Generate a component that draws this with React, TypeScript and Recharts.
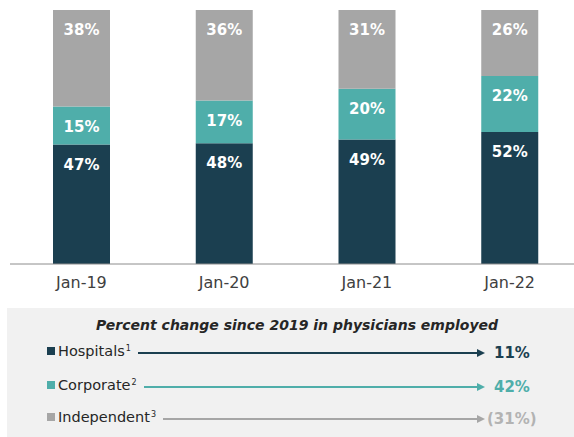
import { BarChart, Bar, XAxis, YAxis, LabelList } from 'recharts';

const categories = ['Jan-19', 'Jan-20', 'Jan-21', 'Jan-22'];
const hospitals = [47, 48, 49, 52];
const corporate = [15, 17, 20, 22];
const independent = [38, 36, 31, 26];

const seriesNames = ['Hospitals', 'Corporate', 'Independent'];
const footnotes = ['1', '2', '3'];
const changeSince2019 = [11, 42, -31];

const NAVY = '#1b3f50';
const TEAL = '#4faeaa';
const GRAY = '#a6a6a6';
const FONT = '"DejaVu Sans", sans-serif';

const data = categories.map((c, i) => ({
  cat: c,
  hospitals: hospitals[i],
  corporate: corporate[i],
  independent: independent[i],
}));

const fmtChange = (v: number) => (v < 0 ? `(${Math.abs(v)}%)` : `${v}%`);

// label sits near the top of each segment
const segLabel = (p: any) => (
  <text
    x={p.x + p.width / 2} y={p.y + 20} textAnchor="middle" dominantBaseline="central"
    fill="#fff" fontSize={15} fontWeight="bold" fontFamily={FONT}
  >
    {p.value}%
  </text>
);

function ArrowRow({ idx, top }: { idx: number; top: number }) {
  const color = [NAVY, TEAL, GRAY][idx];
  const valColor = [NAVY, TEAL, '#b3b3b3'][idx];
  const v = changeSince2019[idx];
  return (
    <>
      <div style={{ position: 'absolute', left: 47, top: top - 10, width: 438, height: 20, display: 'flex', alignItems: 'center' }}>
        <div style={{ width: 8, height: 8, background: color, marginRight: 3 }} />
        <span style={{ fontSize: 14.5, color: '#262626', lineHeight: '20px' }}>{seriesNames[idx]}</span>
        <span style={{ fontSize: 8, color: '#262626', alignSelf: 'flex-start', lineHeight: '10px', marginTop: 3, marginLeft: 1 }}>{footnotes[idx]}</span>
        <div style={{ flex: 1, height: idx === 2 ? 1.5 : 2, background: color, marginLeft: 7, marginTop: 4 }} />
        <div style={{ width: 0, height: 0, marginTop: 4, borderTop: '4px solid transparent', borderBottom: '4px solid transparent', borderLeft: `8px solid ${color}` }} />
      </div>
      <div style={{ position: 'absolute', left: v < 0 ? 487 : 494, top: top - 10, height: 20, lineHeight: '20px', fontSize: 15, fontWeight: 'bold', color: valColor, marginTop: 2 }}>
        {fmtChange(v)}
      </div>
    </>
  );
}

export default function App() {
  return (
    <div style={{ position: 'relative', width: 574, height: 437, overflow: 'hidden', fontFamily: FONT, background: '#fff' }}>
      <style>{'body{margin:0}'}</style>
      <div style={{ position: 'absolute', left: 0, top: 0 }}>
        <BarChart
          width={581} height={300} data={data} stackOffset="expand"
          margin={{ top: 10, right: 0, bottom: 0, left: 10 }}
        >
          <XAxis
            dataKey="cat" height={36} tickLine={false} tickMargin={7}
            axisLine={{ stroke: '#8c8c8c' }}
            tick={{ fill: '#404040', fontSize: 16, fontFamily: FONT }}
          />
          <YAxis hide />
          <Bar dataKey="hospitals" stackId="s" fill={NAVY} barSize={57} isAnimationActive={false}>
            <LabelList dataKey="hospitals" content={segLabel} />
          </Bar>
          <Bar dataKey="corporate" stackId="s" fill={TEAL} barSize={57} isAnimationActive={false}>
            <LabelList dataKey="corporate" content={segLabel} />
          </Bar>
          <Bar dataKey="independent" stackId="s" fill={GRAY} barSize={57} isAnimationActive={false}>
            <LabelList dataKey="independent" content={segLabel} />
          </Bar>
        </BarChart>
      </div>
      <div style={{ position: 'absolute', left: 7, top: 308, width: 567, height: 129, background: '#f1f1f1' }} />
      <div style={{ position: 'absolute', left: 0, width: 594, top: 315, textAlign: 'center', fontSize: 14, lineHeight: '20px', fontWeight: 'bold', fontStyle: 'italic', color: '#262626' }}>
        Percent change since 2019 in physicians employed
      </div>
      <ArrowRow idx={0} top={351} />
      <ArrowRow idx={1} top={385} />
      <ArrowRow idx={2} top={417} />
    </div>
  );
}
